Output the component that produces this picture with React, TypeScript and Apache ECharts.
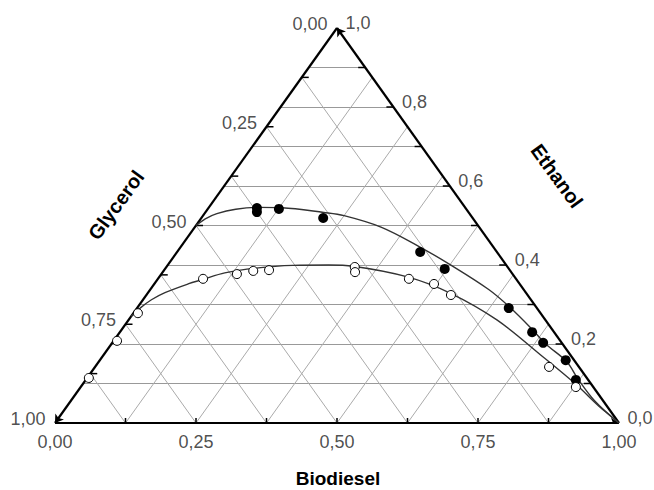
import React, { useEffect, useRef } from "react";
import * as echarts from "echarts";

// Ternary values as [biodiesel, ethanol]; glycerol = 1 - biodiesel - ethanol
const filledBiodiesel = [0.086, 0.091, 0.126, 0.216, 0.431, 0.496, 0.659, 0.731, 0.764, 0.826, 0.869];
const filledEthanol = [0.544, 0.534, 0.542, 0.519, 0.433, 0.39, 0.291, 0.23, 0.203, 0.159, 0.109];

const openBiodiesel = [0.003, 0.006, 0.008, 0.08, 0.134, 0.159, 0.186, 0.334, 0.341, 0.445, 0.496, 0.54, 0.805, 0.878];
const openEthanol = [0.114, 0.208, 0.278, 0.365, 0.377, 0.385, 0.387, 0.395, 0.382, 0.365, 0.352, 0.324, 0.142, 0.091];

const upperBiodiesel = [0, 0.008, 0.022, 0.05, 0.09, 0.13, 0.21, 0.25, 0.33, 0.42, 0.5, 0.6, 0.66, 0.73, 0.77, 0.83, 0.87, 0.93, 1];
const upperEthanol = [0.5, 0.517, 0.53, 0.541, 0.546, 0.545, 0.533, 0.525, 0.496, 0.448, 0.401, 0.338, 0.293, 0.235, 0.2, 0.155, 0.113, 0.055, 0];

const lowerBiodiesel = [0, 0.006, 0.015, 0.03, 0.06, 0.08, 0.111, 0.16, 0.222, 0.285, 0.33, 0.44, 0.536, 0.653, 0.782, 0.877, 0.94, 1];
const lowerEthanol = [0.27, 0.292, 0.312, 0.33, 0.352, 0.363, 0.38, 0.392, 0.399, 0.4, 0.397, 0.37, 0.329, 0.261, 0.167, 0.096, 0.045, 0];

const glycerolLabelValues = [0, 0.25, 0.5, 0.75, 1];
const glycerolLabels = ["0,00", "0,25", "0,50", "0,75", "1,00"];
const biodieselLabelValues = [0, 0.25, 0.5, 0.75, 1];
const biodieselLabels = ["0,00", "0,25", "0,50", "0,75", "1,00"];
const ethanolLabelValues = [0, 0.2, 0.4, 0.6, 0.8, 1];
const ethanolLabels = ["0,0", "0,2", "0,4", "0,6", "0,8", "1,0"];

const eighthSteps = [0.125, 0.25, 0.375, 0.5, 0.625, 0.75, 0.875];
const tenthSteps = [0.1, 0.2, 0.3, 0.4, 0.5, 0.6, 0.7, 0.8, 0.9];

const FONT = "'Liberation Sans', Arial, sans-serif";

function toXY(b: number, e: number): [number, number] {
  return [b + e / 2, e];
}

export default function App() {
  const ref = useRef<HTMLDivElement>(null);

  useEffect(() => {
    if (!ref.current) return;
    const chart = echarts.init(ref.current, undefined, { renderer: "svg" });

    const horizGrid = tenthSteps.map((e) => ({ coords: [toXY(0, e), toXY(1 - e, e)] }));
    const bioGrid = eighthSteps.map((b) => ({ coords: [toXY(b, 0), toXY(b, 1 - b)] }));
    const glyGrid = eighthSteps.map((g) => ({ coords: [toXY(1 - g, 0), toXY(0, 1 - g)] }));

    const tickSeries = (data: [number, number][], dx: number, dy: number) => ({
      type: "custom",
      coordinateSystem: "cartesian2d",
      silent: true,
      z: 4,
      data,
      renderItem: (_p: any, api: any) => {
        const p = api.coord([api.value(0), api.value(1)]);
        return {
          type: "line",
          shape: { x1: p[0], y1: p[1], x2: p[0] + dx, y2: p[1] + dy },
          style: { stroke: "#000", lineWidth: 1.5 },
        };
      },
    });

    const labelSeries = (data: any[], position: string, distance: number, offset: number[]) => ({
      type: "scatter",
      symbolSize: 1,
      silent: true,
      itemStyle: { color: "rgba(0,0,0,0)" },
      data,
      label: {
        show: true,
        formatter: "{b}",
        position,
        distance,
        offset,
        fontSize: 18,
        color: "#222",
        fontFamily: FONT,
      },
    });

    const titleStyle = { fontSize: 20, fontWeight: "bold", fontFamily: FONT, fill: "#000", align: "center", verticalAlign: "middle" };

    chart.setOption({
      animation: false,
      grid: { left: 55, top: 28, width: 564, height: 395 },
      xAxis: { type: "value", min: 0, max: 1, show: false },
      yAxis: { type: "value", min: 0, max: 1, show: false },
      graphic: [
        { type: "text", x: 116, y: 205, rotation: (54 * Math.PI) / 180, style: { ...titleStyle, text: "Glycerol" } },
        { type: "text", x: 557, y: 176, rotation: (-54 * Math.PI) / 180, style: { ...titleStyle, text: "Ethanol" } },
        { type: "text", x: 338, y: 478, style: { ...titleStyle, fontSize: 19, text: "Biodiesel" } },
      ],
      series: [
        {
          type: "lines",
          coordinateSystem: "cartesian2d",
          silent: true,
          z: 1,
          data: horizGrid,
          lineStyle: { color: "#999999", width: 1.2, opacity: 1 },
        },
        {
          type: "lines",
          coordinateSystem: "cartesian2d",
          silent: true,
          z: 1,
          data: [...bioGrid, ...glyGrid],
          lineStyle: { color: "#aaaaaa", width: 1, opacity: 1 },
        },
        {
          type: "lines",
          coordinateSystem: "cartesian2d",
          silent: true,
          z: 5,
          symbol: ["none", "arrow"],
          symbolSize: 8,
          data: [
            { coords: [toXY(0, 1), toXY(0, 0)] },
            { coords: [toXY(0, 0), toXY(1, 0)] },
            { coords: [toXY(1, 0), toXY(0, 1)] },
          ],
          lineStyle: { color: "#000", width: 2.2, opacity: 1 },
        },
        tickSeries(eighthSteps.map((g) => toXY(0, 1 - g)), 7, 0),
        tickSeries(eighthSteps.map((b) => toXY(b, 0)), 0, -5),
        tickSeries(tenthSteps.map((e) => toXY(1 - e, e)), -7, 0),
        labelSeries(
          glycerolLabelValues.map((g, i) => ({ value: toXY(0, 1 - g), name: glycerolLabels[i] })),
          "left",
          9,
          [0, -4]
        ),
        labelSeries(
          biodieselLabelValues.map((b, i) => ({ value: toXY(b, 0), name: biodieselLabels[i] })),
          "bottom",
          9,
          [0, 0]
        ),
        labelSeries(
          ethanolLabelValues.map((e, i) => ({ value: toXY(1 - e, e), name: ethanolLabels[i] })),
          "right",
          8,
          [0, -5]
        ),
        {
          type: "line",
          smooth: 0.35,
          showSymbol: false,
          silent: true,
          z: 6,
          data: upperBiodiesel.map((b, i) => toXY(b, upperEthanol[i])),
          lineStyle: { color: "#333", width: 1.4 },
        },
        {
          type: "line",
          smooth: 0.35,
          showSymbol: false,
          silent: true,
          z: 6,
          data: lowerBiodiesel.map((b, i) => toXY(b, lowerEthanol[i])),
          lineStyle: { color: "#333", width: 1.4 },
        },
        {
          type: "scatter",
          z: 7,
          symbolSize: 10,
          silent: true,
          data: filledBiodiesel.map((b, i) => toXY(b, filledEthanol[i])),
          itemStyle: { color: "#000", opacity: 1 },
        },
        {
          type: "scatter",
          z: 7,
          symbolSize: 9,
          silent: true,
          data: openBiodiesel.map((b, i) => toXY(b, openEthanol[i])),
          itemStyle: { color: "#fff", borderColor: "#000", borderWidth: 1, opacity: 1 },
        },
      ],
    });

    return () => chart.dispose();
  }, []);

  return (
    <div
      ref={ref}
      style={{ position: "fixed", left: 0, top: 0, width: 654, height: 490, background: "#fff" }}
    />
  );
}
